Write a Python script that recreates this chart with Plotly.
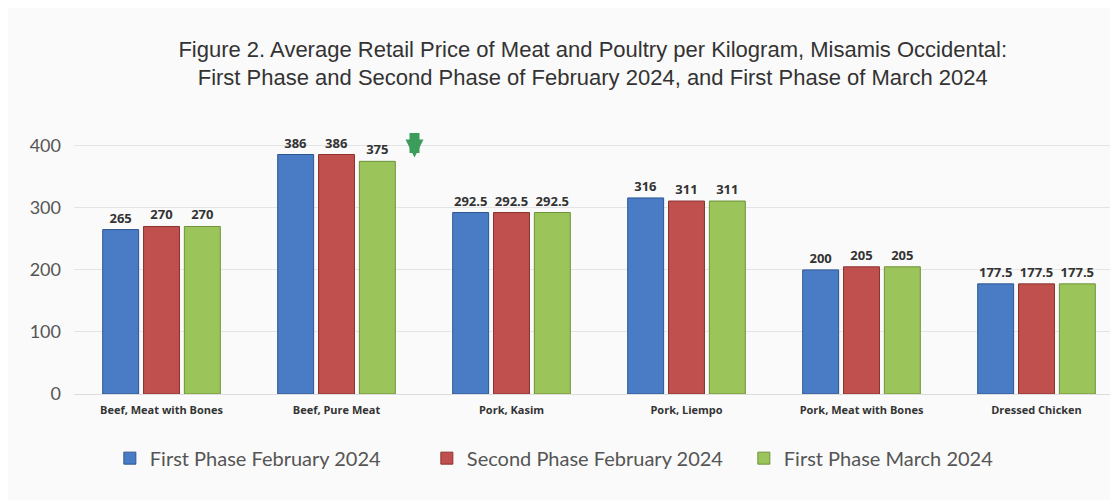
import plotly.graph_objects as go

categories = ["Beef, Meat with Bones", "Beef, Pure Meat", "Pork, Kasim",
              "Pork, Liempo", "Pork, Meat with Bones", "Dressed Chicken"]
first_feb = [265, 386, 292.5, 316, 200, 177.5]
second_feb = [270, 386, 292.5, 311, 205, 177.5]
first_mar = [270, 375, 292.5, 311, 205, 177.5]
series_names = ["First Phase February 2024", "Second Phase February 2024", "First Phase March 2024"]
colors = ["#4a7cc6", "#c0504d", "#9bc45a"]
line_colors = ["#2c5690", "#8a3330", "#6e9238"]

fig = go.Figure()
for name, vals, c, lc in zip(series_names, [first_feb, second_feb, first_mar], colors, line_colors):
    fig.add_trace(go.Bar(
        x=categories, y=vals, name=name,
        marker=dict(color=c, line=dict(color=lc, width=1)),
        text=[f"{v:g}" for v in vals], textposition="outside",
        textfont=dict(family="Open Sans", size=13, color="#333333", weight="bold"),
        cliponaxis=False,
    ))

fig.add_annotation(x="Beef, Pure Meat", y=381, xref="x", yref="y",
                   showarrow=True, ax=0, ay=-26, xshift=78,
                   arrowhead=2, arrowsize=0.36, arrowwidth=10, arrowcolor="#3c9c5c", text="")

fig.update_layout(
    width=1118, height=500,
    paper_bgcolor="#fafafa", plot_bgcolor="#fafafa",
    title=dict(text="Figure 2. Average Retail Price of Meat and Poultry per Kilogram, Misamis Occidental:<br>First Phase and Second Phase of February 2024, and First Phase of March 2024",
               x=0.523, xanchor="center", y=0.903, yanchor="middle",
               font=dict(family="Liberation Sans", size=22, color="#333333")),
    margin=dict(l=66, r=2, t=113, b=114),
    barmode="group", bargap=0.3, bargroupgap=0.12,
    showlegend=True,
    legend=dict(orientation="h", x=0.487, xanchor="center", y=-0.235, yanchor="middle",
                font=dict(family="Lato", size=20, color="#555555"),
                itemwidth=30, traceorder="normal", entrywidth=272, entrywidthmode="pixels"),
    xaxis=dict(tickfont=dict(family="Open Sans", size=11, color="#333333", weight="bold"),
               showline=True, linecolor="#dddddd", ticks="", ticklabelstandoff=6),
    yaxis=dict(range=[0, 440], tickvals=[0, 100, 200, 300, 400],
               tickfont=dict(family="Lato", size=18, color="#555555"),
               showgrid=True, gridcolor="#e4e4e4", zeroline=False, ticks="",
               ticklabelstandoff=12),
)
fig.write_html("out.html")
